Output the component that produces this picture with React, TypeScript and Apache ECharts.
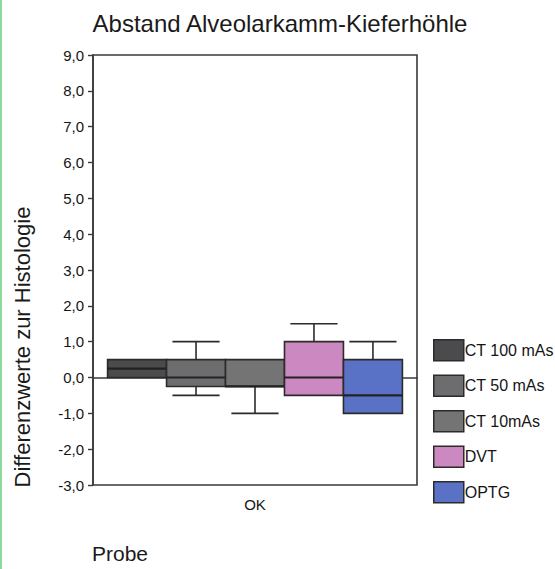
import React, { useEffect, useRef } from "react";
import * as echarts from "echarts";

const categories = ["OK"];
const seriesNames = ["CT 100 mAs", "CT 50 mAs", "CT 10mAs", "DVT", "OPTG"];
const seriesColors = ["#4b4b4d", "#6d6d6f", "#747474", "#cc88c0", "#5a72c6"];
// [min, q1, median, q3, max]
const boxStats: number[][] = [
  [0, 0, 0.25, 0.5, 0.5],
  [-0.5, -0.25, 0, 0.5, 1.0],
  [-1.0, -0.25, -0.25, 0.5, 0.5],
  [-0.5, -0.5, 0, 1.0, 1.5],
  [-1.0, -1.0, -0.5, 0.5, 1.0],
];
const yTicks = { min: -3, max: 9, interval: 1 };

const BOX_FRAC = 0.182;
const CAP_FRAC = 0.8;

export default function App() {
  const ref = useRef<HTMLDivElement>(null);
  useEffect(() => {
    if (!ref.current) return;
    const chart = echarts.init(ref.current, undefined, { renderer: "svg" });
    const n = seriesNames.length;
    const series = seriesNames.map((name, si) => ({
      name,
      type: "custom",
      itemStyle: { color: seriesColors[si] },
      encode: { x: 0, y: [1, 2, 3, 4, 5] },
      data: [[0, ...boxStats[si]]],
      renderItem: (params: any, api: any) => {
        const xc = api.coord([api.value(0), 0])[0];
        const band = api.size([1, 0])[0];
        const w = band * BOX_FRAC;
        const cx = xc + (params.seriesIndex - (n - 1) / 2) * w;
        const y = (v: number) => api.coord([api.value(0), v])[1];
        const yMin = y(api.value(1));
        const yQ1 = y(api.value(2));
        const yMed = y(api.value(3));
        const yQ3 = y(api.value(4));
        const yMax = y(api.value(5));
        const cap = (w * CAP_FRAC) / 2;
        const lineStyle = { stroke: "#2b2b2b", lineWidth: 1.6 };
        const children: any[] = [];
        if (yMax < yQ3) {
          children.push({ type: "line", shape: { x1: cx, y1: yMax, x2: cx, y2: yQ3 }, style: lineStyle });
          children.push({ type: "line", shape: { x1: cx - cap, y1: yMax, x2: cx + cap, y2: yMax }, style: lineStyle });
        }
        if (yMin > yQ1) {
          children.push({ type: "line", shape: { x1: cx, y1: yQ1, x2: cx, y2: yMin }, style: lineStyle });
          children.push({ type: "line", shape: { x1: cx - cap, y1: yMin, x2: cx + cap, y2: yMin }, style: lineStyle });
        }
        children.push({
          type: "rect",
          shape: { x: cx - w / 2, y: yQ3, width: w, height: yQ1 - yQ3 },
          style: { fill: api.visual("color"), stroke: "#2b2b2b", lineWidth: 1.6 },
        });
        children.push({
          type: "line",
          shape: { x1: cx - w / 2, y1: yMed, x2: cx + w / 2, y2: yMed },
          style: { stroke: "#222", lineWidth: 2.2 },
        });
        return { type: "group", children };
      },
    }));

    chart.setOption({
      animation: false,
      textStyle: { fontFamily: "Liberation Sans" },
      grid: {
        left: 93,
        top: 55,
        right: 138,
        bottom: 84,
        show: true,
        borderColor: "#3a3a3a",
        borderWidth: 1.6,
        backgroundColor: "transparent",
      },
      legend: {
        orient: "vertical",
        left: 428,
        top: 334,
        itemWidth: 30,
        itemHeight: 21,
        itemGap: 13,
        icon: "rect",
        itemStyle: { borderColor: "#2b2b2b", borderWidth: 1.5 },
        textStyle: { fontSize: 16, color: "#151515", padding: [0, 0, 0, -4] },
        data: seriesNames,
        selectedMode: false,
      },
      xAxis: {
        type: "category",
        data: categories,
        axisLine: { lineStyle: { color: "#3a3a3a", width: 1.6 } },
        axisTick: { alignWithLabel: true, length: 5, lineStyle: { color: "#3a3a3a", width: 1.6 } },
        axisLabel: { fontSize: 15, color: "#151515", margin: 12 },
      },
      yAxis: {
        type: "value",
        min: yTicks.min,
        max: yTicks.max,
        interval: yTicks.interval,
        splitLine: { show: false },
        axisLine: { show: true, lineStyle: { color: "#3a3a3a", width: 1.6 } },
        axisTick: { show: true, length: 5, lineStyle: { color: "#3a3a3a", width: 1.4 } },
        axisLabel: {
          fontSize: 15,
          color: "#151515",
          margin: 9,
          formatter: (v: number) => v.toFixed(1).replace(".", ","),
        },
      },
      graphic: [
        { type: "rect", left: 0, top: 0, shape: { x: 0, y: 0, width: 2, height: 569 }, style: { fill: "#8dd89a" } },
        {
          type: "text",
          x: 280,
          y: 23,
          style: {
            text: "Abstand Alveolarkamm-Kieferhöhle",
            fontSize: 24,
            fontFamily: "Liberation Sans",
            fill: "#1a1a1a",
            align: "center",
            verticalAlign: "middle",
          },
        },
        {
          type: "text",
          x: 22,
          y: 347,
          rotation: Math.PI / 2,
          style: {
            text: "Differenzwerte zur Histologie",
            fontSize: 22,
            fontFamily: "Liberation Sans",
            fill: "#1a1a1a",
            align: "center",
            verticalAlign: "middle",
          },
        },
        {
          type: "text",
          x: 92,
          y: 553,
          style: {
            text: "Probe",
            fontSize: 21,
            fontFamily: "Liberation Sans",
            fill: "#1a1a1a",
            align: "left",
            verticalAlign: "middle",
          },
        },
      ],
      series,
    });
    return () => chart.dispose();
  }, []);
  return (
    <div
      ref={ref}
      style={{ position: "fixed", left: 0, top: 0, width: 555, height: 569, background: "#fff" }}
    />
  );
}
